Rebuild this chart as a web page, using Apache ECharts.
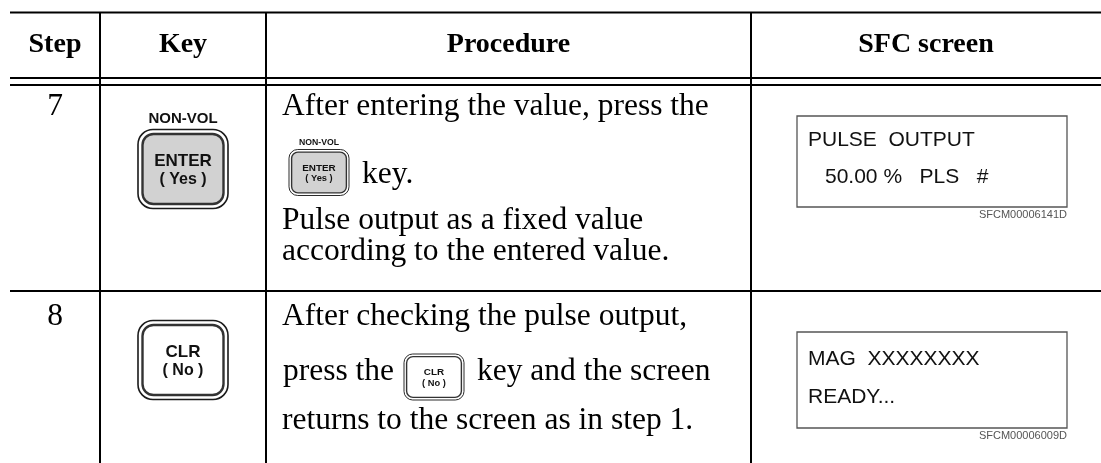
<!DOCTYPE html>
<html><head><meta charset="utf-8">
<script src="https://cdn.jsdelivr.net/npm/echarts@6/dist/echarts.min.js"></script>
<style>html,body{margin:0;padding:0;background:#fff}#c{width:1101px;height:463px}</style>
</head><body><div id="c"></div>
<script>
// ---- table content ----
const headers = ['Step', 'Key', 'Procedure', 'SFC screen'];
const steps = ['7', '8'];
const keyTopLabels = ['NON-VOL', ''];
const keyMainLabels = ['ENTER', 'CLR'];
const keySubLabels = ['( Yes )', '( No )'];
const proc7 = ['After entering the value, press the', 'key.', 'Pulse output as a fixed value', 'according to the entered value.'];
const proc8 = ['After checking the pulse output,', 'press the', 'key and the screen', 'returns to the screen as in step 1.'];
const screen7 = ['PULSE  OUTPUT', '50.00 %   PLS   #'];
const screen8 = ['MAG  XXXXXXXX', 'READY...'];
const screenCodes = ['SFCM00006141D', 'SFCM00006009D'];

// ---- layout ----
const SERIF = '"Liberation Serif","Times New Roman",serif';
const SANS = '"Liberation Sans",Arial,Helvetica,sans-serif';
const colX = [10, 100, 266, 751, 1101];
const g = [];

function line(x1, y1, x2, y2, w, c) {
  g.push({type: 'line', shape: {x1, y1, x2, y2}, style: {stroke: c || '#000', lineWidth: w || 2}, silent: true});
}
function text(x, y, t, font, align, color) {
  g.push({type: 'text', x, y, silent: true,
    style: {text: t, font, textAlign: align || 'left', textVerticalAlign: 'middle',
            align: align || 'left', verticalAlign: 'middle', fill: color || '#000'}});
}
function button(cx, cy, w, h, fill, s, topLbl, mainLbl, subLbl) {
  g.push({type: 'rect', shape: {x: cx - w / 2, y: cy - h / 2, width: w, height: h, r: 15 * s},
          style: {fill: '#fff', stroke: '#1a1a1a', lineWidth: 1.6 * s}, silent: true});
  const ins = 4.5 * s;
  g.push({type: 'rect', shape: {x: cx - w / 2 + ins, y: cy - h / 2 + ins, width: w - 2 * ins, height: h - 2 * ins, r: 11 * s},
          style: {fill: fill, stroke: '#333', lineWidth: 2.4 * s}, silent: true});
  if (topLbl) text(cx, cy - h / 2 - 10 * s - 1, topLbl, 'bold ' + (15 * s).toFixed(1) + 'px ' + SANS, 'center', '#111');
  text(cx, cy - 8 * s, mainLbl, 'bold ' + (17 * s).toFixed(1) + 'px ' + SANS, 'center', '#111');
  text(cx, cy + 11 * s, subLbl, 'bold ' + (16 * s).toFixed(1) + 'px ' + SANS, 'center', '#111');
}

// grid lines
line(colX[0], 12.5, colX[4], 12.5);
line(colX[0], 78, colX[4], 78);
line(colX[0], 85, colX[4], 85);
line(colX[0], 291, colX[4], 291);
for (let i = 1; i <= 3; i++) line(colX[i], 12, colX[i], 463);

// header
const hfont = 'bold 28px ' + SERIF;
headers.forEach((h, i) => text((colX[i] + colX[i + 1]) / 2, 45, h, hfont, 'center'));

// body
const bfont = '31.5px ' + SERIF;
const rowTop = [107, 317];
steps.forEach((s, i) => text((colX[0] + colX[1]) / 2, rowTop[i], s, bfont, 'center'));

// key column buttons
const keyCx = (colX[1] + colX[2]) / 2;
const keyFill = ['#d2d2d2', '#ffffff'];
const keyCy = [169, 360];
[0, 1].forEach(i => button(keyCx, keyCy[i], 90, 79, keyFill[i], 1, keyTopLabels[i], keyMainLabels[i], keySubLabels[i]));

// procedure text row 7
const px = 282;
text(px, 107, proc7[0], bfont);
button(319, 172.5, 60, 46, keyFill[0], 0.58, keyTopLabels[0], keyMainLabels[0], keySubLabels[0]);
text(362, 175, proc7[1], bfont);
text(px, 221, proc7[2], bfont);
text(px, 252, proc7[3], bfont);

// procedure text row 8
text(px, 317, proc8[0], bfont);
text(px + 1, 372, proc8[1], bfont);
button(434, 377, 60, 46, keyFill[1], 0.58, keyTopLabels[1], keyMainLabels[1], keySubLabels[1]);
text(477, 372, proc8[2], bfont);
text(px, 421, proc8[3], bfont);

// SFC screens
const sfont = '21px ' + SANS;
function screen(y0, y1, lines, lineY, lineX, code, codeY) {
  g.push({type: 'rect', shape: {x: 797, y: y0, width: 270, height: y1 - y0},
          style: {fill: '#fff', stroke: '#555', lineWidth: 1.3}, silent: true});
  lines.forEach((l, i) => text(lineX[i], lineY[i], l, sfont, 'left', '#111'));
  text(1067, codeY, code, '11px ' + SANS, 'right', '#555');
}
screen(116, 207, screen7, [140, 177], [808, 825], screenCodes[0], 214.5);
screen(332, 428, screen8, [359, 397], [808, 808], screenCodes[1], 435.5);

const chart = echarts.init(document.getElementById('c'), null, {renderer: 'canvas'});
chart.setOption({animation: false, backgroundColor: '#fff', graphic: {elements: g}});
</script>
</body></html>
